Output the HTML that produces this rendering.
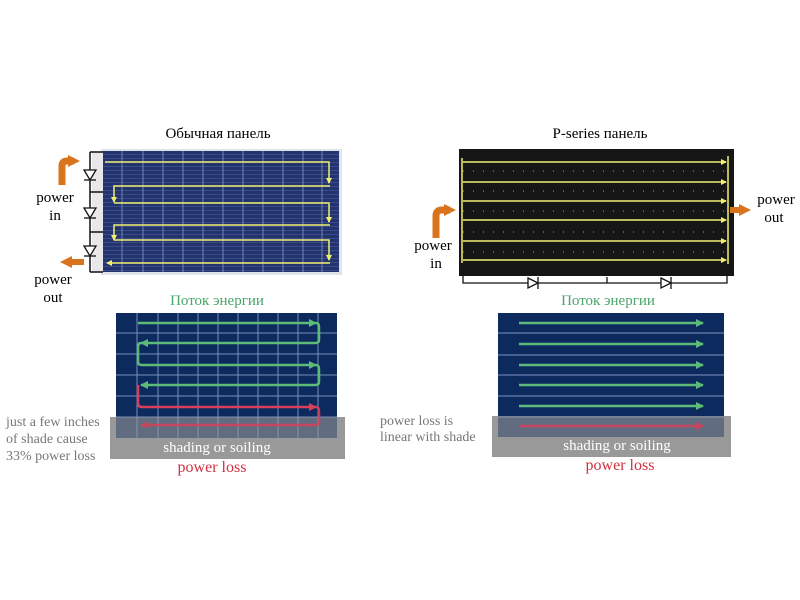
<!DOCTYPE html>
<html><head><meta charset="utf-8"><style>html,body{margin:0;padding:0;background:#fff}svg{display:block}</style></head>
<body>
<svg width="800" height="600" viewBox="0 0 800 600" xmlns="http://www.w3.org/2000/svg" font-family="Liberation Serif, serif">
<defs>
<marker id="ay" markerWidth="6" markerHeight="6" refX="5" refY="3" orient="auto" markerUnits="userSpaceOnUse"><path d="M0,0 L6,3 L0,6z" fill="#f0f070"/></marker>
<marker id="ag" markerWidth="8" markerHeight="8" refX="7" refY="4" orient="auto" markerUnits="userSpaceOnUse"><path d="M0,0 L8,4 L0,8z" fill="#5dbb7a"/></marker>
<marker id="ar" markerWidth="8" markerHeight="8" refX="7" refY="4" orient="auto" markerUnits="userSpaceOnUse"><path d="M0,0 L8,4 L0,8z" fill="#d8405a"/></marker>
<marker id="ao" markerWidth="12" markerHeight="12" refX="6" refY="6" orient="auto" markerUnits="userSpaceOnUse"><path d="M0,0 L12,6 L0,12z" fill="#d9731c"/></marker>
<pattern id="stripes" width="8" height="4" patternUnits="userSpaceOnUse"><rect width="8" height="4" fill="#23336e"/><rect y="2" width="8" height="1" fill="#3a4c88"/></pattern>
</defs>

<text x="218" y="138" font-size="15" text-anchor="middle">Обычная панель</text>
<text x="600" y="138" font-size="15" text-anchor="middle">P-series панель</text>

<rect x="101" y="149" width="241" height="126" fill="#dfe3ea"/>
<rect x="103" y="151" width="236" height="121" fill="url(#stripes)"/>
<g stroke="#8b97c0" stroke-width="1" opacity="0.8">
<line x1="122" y1="151" x2="122" y2="272"/><line x1="143" y1="151" x2="143" y2="272"/><line x1="163" y1="151" x2="163" y2="272"/><line x1="183" y1="151" x2="183" y2="272"/><line x1="203" y1="151" x2="203" y2="272"/><line x1="223" y1="151" x2="223" y2="272"/><line x1="243" y1="151" x2="243" y2="272"/><line x1="263" y1="151" x2="263" y2="272"/><line x1="283" y1="151" x2="283" y2="272"/><line x1="303" y1="151" x2="303" y2="272"/><line x1="322" y1="151" x2="322" y2="272"/>
</g>
<rect x="92" y="152" width="11" height="120" fill="#e8e8ea"/>
<g stroke="#111" stroke-width="1.5" fill="none">
<path d="M90,152 V272 M90,152 H103 M90,192 H103 M90,232 H103 M90,272 H103"/>
</g>
<g fill="#fff" stroke="#111" stroke-width="1.3">
<path d="M84,170 L96,170 L90,180 Z"/><line x1="84" y1="180" x2="96" y2="180"/>
<path d="M84,208 L96,208 L90,218 Z"/><line x1="84" y1="218" x2="96" y2="218"/>
<path d="M84,246 L96,246 L90,256 Z"/><line x1="84" y1="256" x2="96" y2="256"/>
</g>
<g stroke="#f0f070" stroke-width="1.5" fill="none">
<path d="M105,162 H329 V183" marker-end="url(#ay)"/>
<path d="M330,186 H114 V202" marker-end="url(#ay)"/>
<path d="M114,203 H329 V222" marker-end="url(#ay)"/>
<path d="M330,225 H114 V240" marker-end="url(#ay)"/>
<path d="M114,240 H329 V260" marker-end="url(#ay)"/>
<path d="M330,263 H107" marker-end="url(#ay)"/>
</g>
<path d="M62,185 V166 Q62,161 67,161 H74" stroke="#d9731c" stroke-width="7" fill="none" marker-end="url(#ao)"/>
<path d="M84,262 H66" stroke="#d9731c" stroke-width="6" fill="none" marker-end="url(#ao)"/>
<text x="55" y="202" font-size="15" text-anchor="middle">power</text>
<text x="55" y="220" font-size="15" text-anchor="middle">in</text>
<text x="53" y="284" font-size="15" text-anchor="middle">power</text>
<text x="53" y="302" font-size="15" text-anchor="middle">out</text>

<rect x="459" y="149" width="275" height="127" fill="#161616"/>
<g stroke="#bbb" stroke-width="1" stroke-dasharray="1 9" opacity="0.8">
<line x1="463" y1="171" x2="727" y2="171"/><line x1="463" y1="191" x2="727" y2="191"/><line x1="463" y1="211" x2="727" y2="211"/><line x1="463" y1="232" x2="727" y2="232"/><line x1="463" y1="252" x2="727" y2="252"/>
</g>
<g stroke="#f0f070" stroke-width="1.5" fill="none">
<line x1="462" y1="158" x2="462" y2="263"/><line x1="728" y1="156" x2="728" y2="264"/>
<line x1="463" y1="162" x2="726" y2="162" marker-end="url(#ay)"/>
<line x1="463" y1="182" x2="726" y2="182" marker-end="url(#ay)"/>
<line x1="463" y1="201" x2="726" y2="201" marker-end="url(#ay)"/>
<line x1="463" y1="220" x2="726" y2="220" marker-end="url(#ay)"/>
<line x1="463" y1="241" x2="726" y2="241" marker-end="url(#ay)"/>
<line x1="463" y1="260" x2="726" y2="260" marker-end="url(#ay)"/>
</g>
<g stroke="#111" stroke-width="1.3" fill="none">
<path d="M463,273 V283 H727 V273 M607,277 V283"/>
</g>
<g fill="#fff" stroke="#111" stroke-width="1.3">
<path d="M528,278 L538,283 L528,288 Z"/><line x1="538" y1="277" x2="538" y2="289"/>
<path d="M661,278 L671,283 L661,288 Z"/><line x1="671" y1="277" x2="671" y2="289"/>
</g>
<path d="M436,238 V216 Q436,210 442,210 H450" stroke="#d9731c" stroke-width="7" fill="none" marker-end="url(#ao)"/>
<path d="M730,210 H745" stroke="#d9731c" stroke-width="6" fill="none" marker-end="url(#ao)"/>
<text x="433" y="250" font-size="15" text-anchor="middle">power</text>
<text x="436" y="268" font-size="15" text-anchor="middle">in</text>
<text x="776" y="204" font-size="15" text-anchor="middle">power</text>
<text x="774" y="222" font-size="15" text-anchor="middle">out</text>

<text x="217" y="305" font-size="15" text-anchor="middle" fill="#4aa56a">Поток энергии</text>
<text x="608" y="305" font-size="15" text-anchor="middle" fill="#4aa56a">Поток энергии</text>

<!-- left bottom -->
<rect x="110" y="417" width="235" height="42" fill="#999"/>
<rect x="116" y="313" width="221" height="125" fill="#0d2a5e"/>
<g stroke="#8aa0cc" stroke-width="1" opacity="0.85">
<line x1="137" y1="313" x2="137" y2="438"/><line x1="158" y1="313" x2="158" y2="438"/><line x1="178" y1="313" x2="178" y2="438"/><line x1="198" y1="313" x2="198" y2="438"/><line x1="218" y1="313" x2="218" y2="438"/><line x1="238" y1="313" x2="238" y2="438"/><line x1="258" y1="313" x2="258" y2="438"/><line x1="278" y1="313" x2="278" y2="438"/><line x1="298" y1="313" x2="298" y2="438"/><line x1="318" y1="313" x2="318" y2="438"/>
<line x1="116" y1="333" x2="337" y2="333"/><line x1="116" y1="354" x2="337" y2="354"/><line x1="116" y1="375" x2="337" y2="375"/><line x1="116" y1="396" x2="337" y2="396"/><line x1="116" y1="417" x2="337" y2="417"/>
</g>
<g stroke="#5dbb7a" stroke-width="2.5" fill="none">
<path d="M138,323 H316" marker-end="url(#ag)"/>
<path d="M316,323 Q319,323 319,327 V340 Q319,343 315,343 H141" marker-end="url(#ag)"/>
<path d="M141,343 Q138,343 138,347 V362 Q138,365 142,365 H316" marker-end="url(#ag)"/>
<path d="M316,365 Q319,365 319,369 V382 Q319,385 315,385 H141" marker-end="url(#ag)"/>
</g>
<g stroke="#d8405a" stroke-width="2.5" fill="none">
<path d="M138,385 V403 Q138,407 142,407 H316" marker-end="url(#ar)"/>
</g>
<rect x="116" y="417" width="221" height="21" fill="#999" opacity="0.6"/>
<path d="M316,407 Q319,407 319,411 V422 Q319,425 315,425 H141" stroke="#d8405a" stroke-width="2.5" fill="none" opacity="0.85" marker-end="url(#ar)"/>
<text x="217" y="452" font-size="15" text-anchor="middle" fill="#fff">shading or soiling</text>
<text x="212" y="472" font-size="16" text-anchor="middle" fill="#d03040">power loss</text>
<g font-size="14" fill="#777">
<text x="6" y="426">just a few inches</text>
<text x="6" y="443">of shade cause</text>
<text x="6" y="460">33% power loss</text>
<text x="380" y="425">power loss is</text>
<text x="380" y="441">linear with shade</text>
</g>

<!-- right bottom -->
<rect x="492" y="416" width="239" height="41" fill="#999"/>
<rect x="498" y="313" width="226" height="124" fill="#0d2a5e"/>
<g stroke="#7d93c0" stroke-width="1">
<line x1="498" y1="333" x2="724" y2="333"/><line x1="498" y1="355" x2="724" y2="355"/><line x1="498" y1="375" x2="724" y2="375"/><line x1="498" y1="396" x2="724" y2="396"/><line x1="498" y1="417" x2="724" y2="417"/>
</g>
<g stroke="#5dbb7a" stroke-width="2.5">
<line x1="519" y1="323" x2="703" y2="323" marker-end="url(#ag)"/>
<line x1="519" y1="344" x2="703" y2="344" marker-end="url(#ag)"/>
<line x1="519" y1="365" x2="703" y2="365" marker-end="url(#ag)"/>
<line x1="519" y1="385" x2="703" y2="385" marker-end="url(#ag)"/>
<line x1="519" y1="406" x2="703" y2="406" marker-end="url(#ag)"/>
</g>
<rect x="498" y="416" width="226" height="21" fill="#999" opacity="0.6"/>
<line x1="519" y1="426" x2="703" y2="426" stroke="#d8405a" stroke-width="2.5" opacity="0.85" marker-end="url(#ar)"/>
<text x="617" y="450" font-size="15" text-anchor="middle" fill="#fff">shading or soiling</text>
<text x="620" y="470" font-size="16" text-anchor="middle" fill="#d03040">power loss</text>
</svg>
</body></html>
